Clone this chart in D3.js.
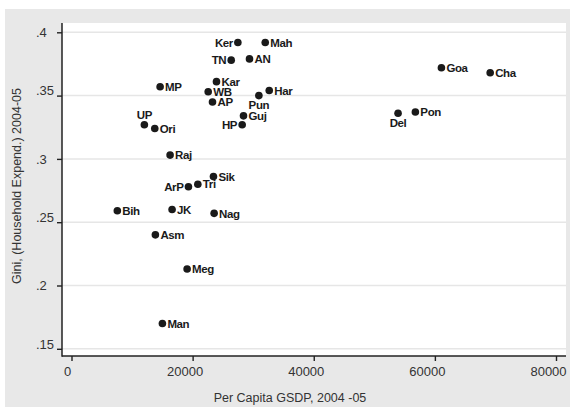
<!DOCTYPE html>
<html>
<head>
<meta charset="utf-8">
<script src="https://cdn.jsdelivr.net/npm/d3@7"></script>
<style>
  html, body { margin: 0; padding: 0; background: #ffffff; }
  svg { display: block; font-family: "Liberation Sans", Arial, Helvetica, sans-serif; }
</style>
</head>
<body>
<svg id="chart" width="573" height="407"></svg>
<script>
// State abbreviations, per-capita GSDP (Rs, 2004-05) and consumption Gini (2004-05)
const states = ["Ker","Mah","TN","AN","Kar","WB","AP","MP","Har","Pun","Guj","HP","UP","Ori","Raj",
                "Goa","Cha","Del","Pon","Sik","Tri","ArP","Bih","JK","Nag","Asm","Meg","Man"];
const gsdp   = [27470, 31990, 26370, 29390, 23940, 22570, 23280, 14630, 32650, 30940, 28400, 28180, 12030, 13750, 16280,
                61080, 69130, 53920, 56780, 23440, 20860, 19310, 7570, 16610, 23550, 13850, 19090, 15010];
const gini   = [0.392, 0.392, 0.378, 0.379, 0.361, 0.353, 0.345, 0.357, 0.354, 0.350, 0.334, 0.327, 0.327, 0.324, 0.303,
                0.372, 0.368, 0.336, 0.337, 0.286, 0.280, 0.278, 0.259, 0.260, 0.257, 0.240, 0.213, 0.170];
// label position around the marker: r = right, l = left, t = above, b = below
const labelPos = ["l","r","l","r","r","r","r","r","r","b","r","l","t","r","r",
                  "r","r","b","r","r","r","l","r","r","r","r","r","r"];

const xTicks = [0, 20000, 40000, 60000, 80000];
const yTicks = [0.15, 0.2, 0.25, 0.3, 0.35, 0.4];
const yTickText = [".15", ".2", ".25", ".3", ".35", ".4"];

const xTitle = "Per Capita GSDP, 2004 -05";
const yTitle = "Gini, (Household Expend.) 2004-05";

const svg = d3.select("#chart");

// plot region
const plot = { left: 62, right: 566, top: 23, bottom: 356 };

const x = d3.scaleLinear().domain([0, 80000]).range([71.5, 556]);
const y = d3.scaleLinear().domain([0.15, 0.4]).range([348.8, 32.3]);

// outer graph region
svg.append("rect").attr("x", 5).attr("y", 9).attr("width", 565).attr("height", 398)
  .attr("fill", "#e8e8e8");
svg.append("rect").attr("x", plot.left).attr("y", plot.top)
  .attr("width", plot.right - plot.left).attr("height", plot.bottom - plot.top)
  .attr("fill", "#ffffff");

// horizontal grid
svg.append("g").selectAll("line").data(yTicks).join("line")
  .attr("x1", plot.left).attr("x2", plot.right)
  .attr("y1", d => y(d)).attr("y2", d => y(d))
  .attr("stroke", "#e6e6e6").attr("stroke-width", 1.5);

// x axis
const xAxis = svg.append("g").attr("transform", `translate(0,${plot.bottom})`)
  .call(d3.axisBottom(x).tickValues(xTicks).tickFormat(d3.format("d")).tickSize(5).tickPadding(6));
xAxis.select(".domain").remove();
xAxis.selectAll(".tick line").attr("stroke", "#222").attr("stroke-width", 1.4);
xAxis.selectAll(".tick text").attr("fill", "#333").attr("font-size", 13)
  .attr("font-family", "Liberation Sans, Arial, sans-serif")
  .attr("dx", d => d === 0 ? -4.5 : -8);

// y axis
const yAxis = svg.append("g").attr("transform", `translate(${plot.left},0)`)
  .call(d3.axisLeft(y).tickValues(yTicks).tickFormat((d, i) => yTickText[i]).tickSize(5));
yAxis.select(".domain").remove();
yAxis.selectAll(".tick line").attr("stroke", "#222").attr("stroke-width", 1.4);
yAxis.selectAll(".tick text")
  .attr("fill", "#333").attr("font-size", 13)
  .attr("font-family", "Liberation Sans, Arial, sans-serif")
  .attr("text-anchor", "start")
  .attr("x", 36 - plot.left)
  .attr("dy", (d, i) => yTickText[i].length > 2 ? "-0.05em" : "0.32em");

// axis lines
svg.append("line").attr("x1", plot.left).attr("x2", plot.left)
  .attr("y1", plot.top).attr("y2", plot.bottom + 0.7)
  .attr("stroke", "#222").attr("stroke-width", 1.5);
svg.append("line").attr("x1", plot.left).attr("x2", plot.right)
  .attr("y1", plot.bottom).attr("y2", plot.bottom)
  .attr("stroke", "#222").attr("stroke-width", 1.5);

// axis titles
svg.append("text").attr("x", 290).attr("y", 402).attr("text-anchor", "middle")
  .attr("font-size", 12.5).attr("fill", "#333").text(xTitle);
svg.append("text").attr("transform", "translate(21,186) rotate(-90)")
  .attr("text-anchor", "middle").attr("font-size", 12.5).attr("fill", "#333").text(yTitle);

// markers and labels
const data = states.map((s, i) => ({ s, gx: gsdp[i], gy: gini[i], pos: labelPos[i] }));

const g = svg.append("g");
g.selectAll("circle").data(data).join("circle")
  .attr("cx", d => x(d.gx)).attr("cy", d => y(d.gy)).attr("r", 3.8)
  .attr("fill", "#1a1a1a");

g.selectAll("text").data(data).join("text")
  .attr("font-size", 11.5).attr("font-weight", "bold").attr("fill", "#1a1a1a")
  .attr("letter-spacing", -0.4)
  .attr("x", d => {
    const cx = x(d.gx);
    if (d.pos === "r") return cx + 5;
    if (d.pos === "l") return cx - 5;
    return cx;
  })
  .attr("y", d => {
    const cy = y(d.gy);
    if (d.pos === "t") return cy - 6;
    if (d.pos === "b") return cy + 13.5;
    return cy + 4.2;
  })
  .attr("text-anchor", d => d.pos === "r" ? "start" : d.pos === "l" ? "end" : "middle")
  .text(d => d.s);
</script>
</body>
</html>
